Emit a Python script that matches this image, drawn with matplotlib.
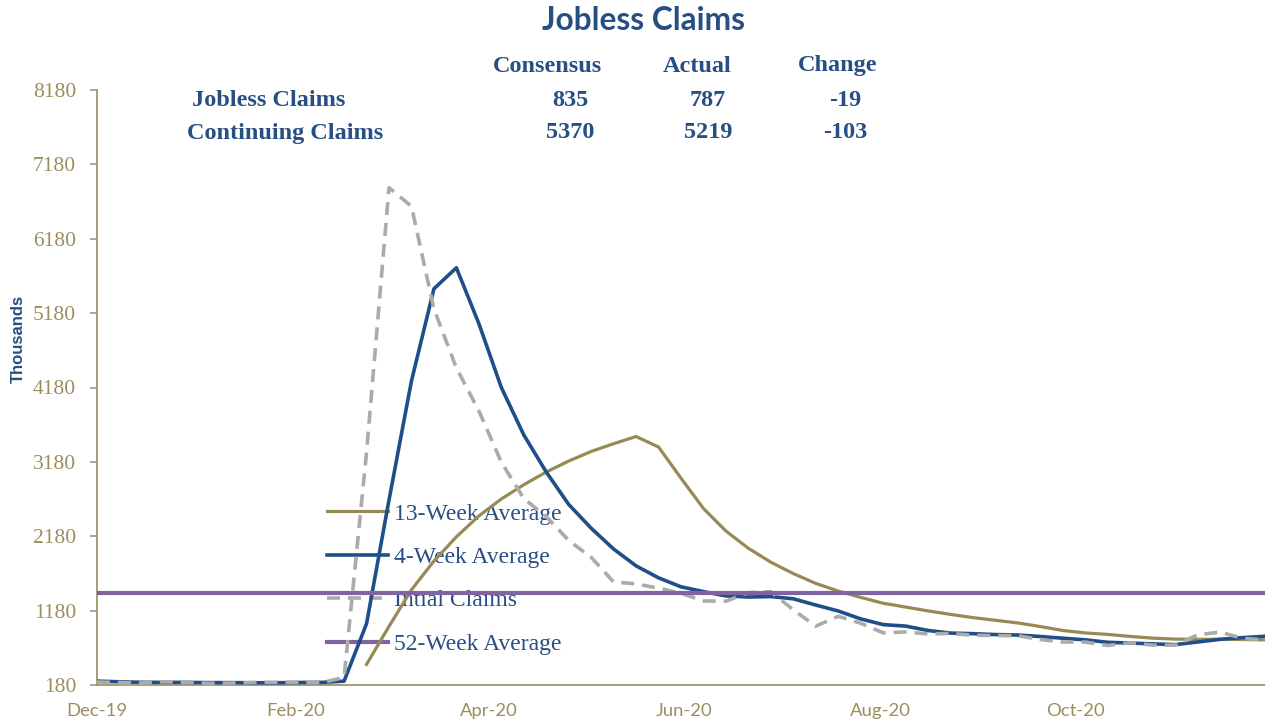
import matplotlib
matplotlib.use("Agg")
import matplotlib.pyplot as plt
import matplotlib.dates as mdates
from matplotlib.lines import Line2D
import pandas as pd

# ---------------- data ----------------
week_start = "2019-12-01"
initial_claims = [220, 214, 207, 223, 216, 203, 206, 215, 217, 217,
                  211, 282, 3307, 6867, 6615, 5237, 4442, 3867, 3176, 2687,
                  2446, 2123, 1897, 1566, 1540, 1482, 1413, 1310, 1307, 1422,
                  1435, 1191, 971, 1104, 1011, 881, 893, 866, 873, 849,
                  845, 842, 791, 758, 757, 711, 748, 716, 716, 853,
                  892, 806, 787]
four_week_avg = [232, 223, 216, 216, 215, 212, 212, 210, 210, 214,
                 215, 232, 1004, 2667, 4268, 5507, 5790, 5040, 4181, 3543,
                 3044, 2608, 2288, 2008, 1782, 1621, 1500, 1436, 1378, 1363,
                 1369, 1339, 1255, 1175, 1069, 992, 972, 913, 878, 870,
                 858, 852, 832, 809, 787, 754, 744, 733, 723, 758,
                 794, 817, 835]
# 13-week average only exists from the 13th week on
thirteen_week_avg = [457, 968, 1460, 1847, 2172, 2453, 2681, 2872, 3044, 3191,
                     3320, 3424, 3521, 3380, 2961, 2553, 2250, 2018, 1831, 1678,
                     1546, 1443, 1358, 1279, 1228, 1176, 1129, 1086, 1050, 1014,
                     966, 913, 880, 860, 833, 810, 797, 794, 796, 791,
                     786]
fifty_two_week_avg = 1412

series_names = ["13-Week Average", "4-Week Average", "Intial Claims", "52-Week Average"]
y_ticks = list(range(180, 8181, 1000))

table_header = ["Consensus", "Actual", "Change"]
table_rows = ["Jobless Claims", "Continuing Claims"]
table_values = [["835", "787", "-19"],
                ["5370", "5219", "-103"]]

# ---------------- style ----------------
GOLD = "#978A55"
AXIS_GOLD = "#9A8E5E"
BLUE = "#1F4E89"
GRAY = "#ABABAB"
PURPLE = "#8064A2"
NAVY = "#284F83"

W, H = 1265, 725
fig = plt.figure(figsize=(W / 100, H / 100), dpi=100)
ax = fig.add_axes([97 / W, 40 / H, 1 - 97 / W, 595 / H])

dates = pd.date_range(week_start, periods=len(initial_claims), freq="7D")
dates13 = dates[len(dates) - len(thirteen_week_avg):]

l13, = ax.plot(dates13, thirteen_week_avg, color=GOLD, lw=2.3, zorder=3,
               solid_joinstyle="round")
l4, = ax.plot(dates, four_week_avg, color=BLUE, lw=2.6, zorder=3,
              solid_joinstyle="round")
lic, = ax.plot(dates, initial_claims, color=GRAY, lw=2.6, zorder=3,
               dashes=(3.6, 2.2), dash_capstyle="butt")
l52 = ax.axhline(fifty_two_week_avg, color=PURPLE, lw=3.0, zorder=4)

ax.set_xlim(dates[0], dates[-1])
ax.set_ylim(y_ticks[0], y_ticks[-1])
ax.set_yticks(y_ticks)
ax.xaxis.set_major_locator(mdates.MonthLocator(bymonth=[12, 2, 4, 6, 8, 10]))
ax.xaxis.set_major_formatter(mdates.DateFormatter("%b-%y"))

for s in ["top", "right"]:
    ax.spines[s].set_visible(False)
for s in ["left", "bottom"]:
    ax.spines[s].set_color(AXIS_GOLD)
    ax.spines[s].set_linewidth(1.2)

ax.tick_params(axis="y", direction="out", length=5, width=1.1, color=AXIS_GOLD,
               labelcolor=AXIS_GOLD, pad=10)
ax.tick_params(axis="x", length=0, labelcolor=AXIS_GOLD, pad=13)
for lab in ax.get_yticklabels():
    lab.set_fontfamily(["Liberation Serif", "DejaVu Serif"])
    lab.set_fontsize(15.5)
for lab in ax.get_xticklabels():
    lab.set_fontfamily(["Lato", "DejaVu Sans"])
    lab.set_fontsize(13.3)

# legend (drawn below the data lines, no frame)
handles = [Line2D([], [], color=GOLD, lw=2.3),
           Line2D([], [], color=BLUE, lw=2.6),
           Line2D([], [], color=GRAY, lw=2.6, dashes=(3.6, 2.2)),
           Line2D([], [], color=PURPLE, lw=3.0)]
leg = ax.legend(handles, series_names, loc="upper left",
                bbox_to_anchor=(327 / W, 1 - 503 / H), bbox_transform=fig.transFigure,
                frameon=False, borderpad=0, borderaxespad=0,
                handlelength=2.6, handletextpad=0.22, labelspacing=0.93,
                prop={"family": ["Liberation Serif", "DejaVu Serif"], "size": 17})
for t in leg.get_texts():
    t.set_color(NAVY)
leg.set_zorder(1)

# y label
fig.text(18 / W, 1 - 339 / H, "Thousands", rotation=90, ha="center", va="center",
         color=NAVY, fontsize=12, fontweight="bold",
         family=["Liberation Sans", "DejaVu Sans"])

# title
fig.text(644 / W, 1 - 21 / H, "Jobless Claims", ha="center", va="center",
         color=NAVY, fontsize=22.8, fontweight="bold", family=["Lato", "DejaVu Sans"])

# table
serif_bold = dict(color=NAVY, fontsize=17.5, fontweight="bold",
                  family=["Liberation Serif", "DejaVu Serif"], va="center")
col_x = [547, 697, 838]
val_x = [570, 708, 845]
for j, h in enumerate(table_header):
    fig.text(col_x[j] / W, 1 - 66 / H, h, ha="center", **serif_bold)
row_y = [101, 133]
row_x = [192, 187]
for i, name in enumerate(table_rows):
    fig.text(row_x[i] / W, 1 - row_y[i] / H, name, ha="left", **serif_bold)
    for j, v in enumerate(table_values[i]):
        fig.text(val_x[j] / W, 1 - row_y[i] / H, v, ha="center", **serif_bold)

fig.savefig("out.png", dpi=100)
